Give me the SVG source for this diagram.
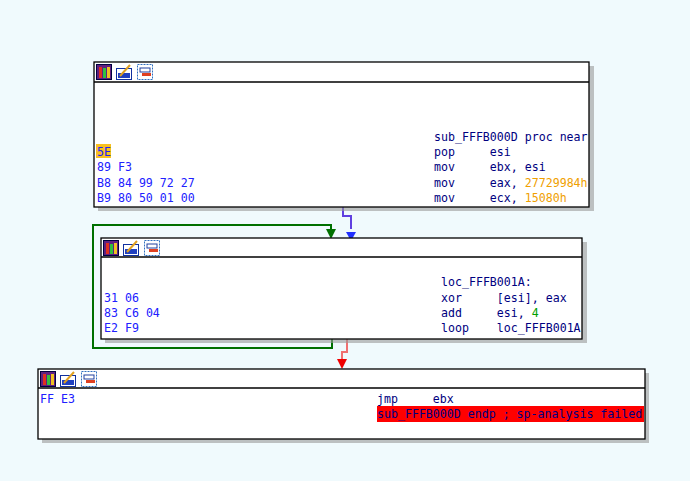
<svg xmlns="http://www.w3.org/2000/svg" width="690" height="481" viewBox="0 0 690 481">
<style>
text{font-family:"DejaVu Sans Mono","Liberation Mono",monospace;font-size:11.6px;white-space:pre}
.n{fill:#fff;stroke:#000;stroke-width:1.3}
.sh{fill:#9a9a9a;opacity:.6}
.b{fill:#2020ff}.k{fill:#000080}.y{fill:#f0a000}.g{fill:#00a000}
.i1{fill:#602080;stroke:#000040}.i2{fill:#fff;stroke:#1030a0}.i3{fill:#fff;stroke:#3070c0}
</style>
<defs>
<g id="ic">
<rect class="i1" x="0.5" y="0.5" width="15" height="15"/><rect x="3" y="3" width="3" height="11" fill="#e03020"/><rect x="7" y="4" width="3" height="10" fill="#30c040"/><rect x="11" y="3" width="3" height="11" fill="#f0c020"/>
<rect class="i2" x="20.5" y="4.5" width="15" height="11"/><rect x="22" y="9" width="12" height="5" fill="#2040c0"/><line x1="24" y1="12" x2="34" y2="1" stroke="#e0a020" stroke-width="2"/>
<rect class="i3" x="41.5" y="0.5" width="15" height="15" stroke-dasharray="2 1"/><rect x="44" y="4" width="10" height="4" fill="none" stroke="#2040a0"/><rect x="46" y="9" width="9" height="3" fill="#e04020"/>
</g>
<marker id="ab" markerWidth="10" markerHeight="10" refX="5" refY="9" orient="auto" markerUnits="userSpaceOnUse" viewBox="0 0 10 10"><path d="M0,0L10,0L5,10z" fill="#2030ff"/></marker>
</defs>
<rect width="690" height="481" fill="#f0fafd"/>
<g id="connectors" fill="none" stroke-width="2">
<path d="M343,207V216H351V229" stroke="#6040e0" />
<path d="M346,232l5,9l5,-9z" fill="#2030ff" stroke="none"/>
<path d="M332,339V348H93V225H331V231" stroke="#007000"/>
<path d="M326,229l5,10l5,-10z" fill="#007000" stroke="none"/>
<path d="M347,339V352H342V360" stroke="#f07070"/>
<path d="M337,359l5,10l5,-10z" fill="#f00000" stroke="none"/>
</g>
<g id="node1">
<rect class="sh" x="98" y="66" width="496" height="145"/>
<rect class="n" x="94" y="62" width="495" height="145"/>
<line x1="94" y1="82" x2="589" y2="82" stroke="#000" stroke-width="1.3"/>
<use href="#ic" x="96" y="64"/>
<text x="434" y="141" class="k">sub_FFFB000D proc near</text>
<rect x="96" y="144" width="15" height="14" fill="#f8c020"/>
<text x="97" y="156" class="b">5E</text><text x="434" y="156" class="k">pop     esi</text>
<text x="97" y="171" class="b">89 F3</text><text x="434" y="171" class="k">mov     ebx, esi</text>
<text x="97" y="187" class="b">B8 84 99 72 27</text><text x="434" y="187" class="k">mov     eax, <tspan class="y">27729984h</tspan></text>
<text x="97" y="202" class="b">B9 80 50 01 00</text><text x="434" y="202" class="k">mov     ecx, <tspan class="y">15080h</tspan></text>
</g>
<g id="node2">
<rect class="sh" x="105" y="242" width="482" height="101"/>
<rect class="n" x="101" y="238" width="481" height="101"/>
<line x1="101" y1="257" x2="582" y2="257" stroke="#000" stroke-width="1.3"/>
<use href="#ic" x="103" y="240"/>
<text x="441" y="286" class="k">loc_FFFB001A:</text>
<text x="104" y="302" class="b">31 06</text><text x="441" y="302" class="k">xor     [esi], eax</text>
<text x="104" y="317" class="b">83 C6 04</text><text x="441" y="317" class="k">add     esi, <tspan class="g">4</tspan></text>
<text x="104" y="332" class="b">E2 F9</text><text x="441" y="332" class="k">loop    loc_FFFB001A</text>
</g>
<g id="node3">
<rect class="sh" x="42" y="373" width="607" height="70"/>
<rect class="n" x="38" y="369" width="607" height="70"/>
<line x1="38" y1="388" x2="645" y2="388" stroke="#000" stroke-width="1.3"/>
<use href="#ic" x="40" y="371"/>
<text x="40" y="403" class="b">FF E3</text><text x="377" y="403" class="k">jmp     ebx</text>
<rect x="377" y="406" width="267" height="16" fill="#ff0000"/>
<text x="377" y="418" class="k">sub_FFFB000D endp ; sp-analysis failed</text>
</g>
</svg>
